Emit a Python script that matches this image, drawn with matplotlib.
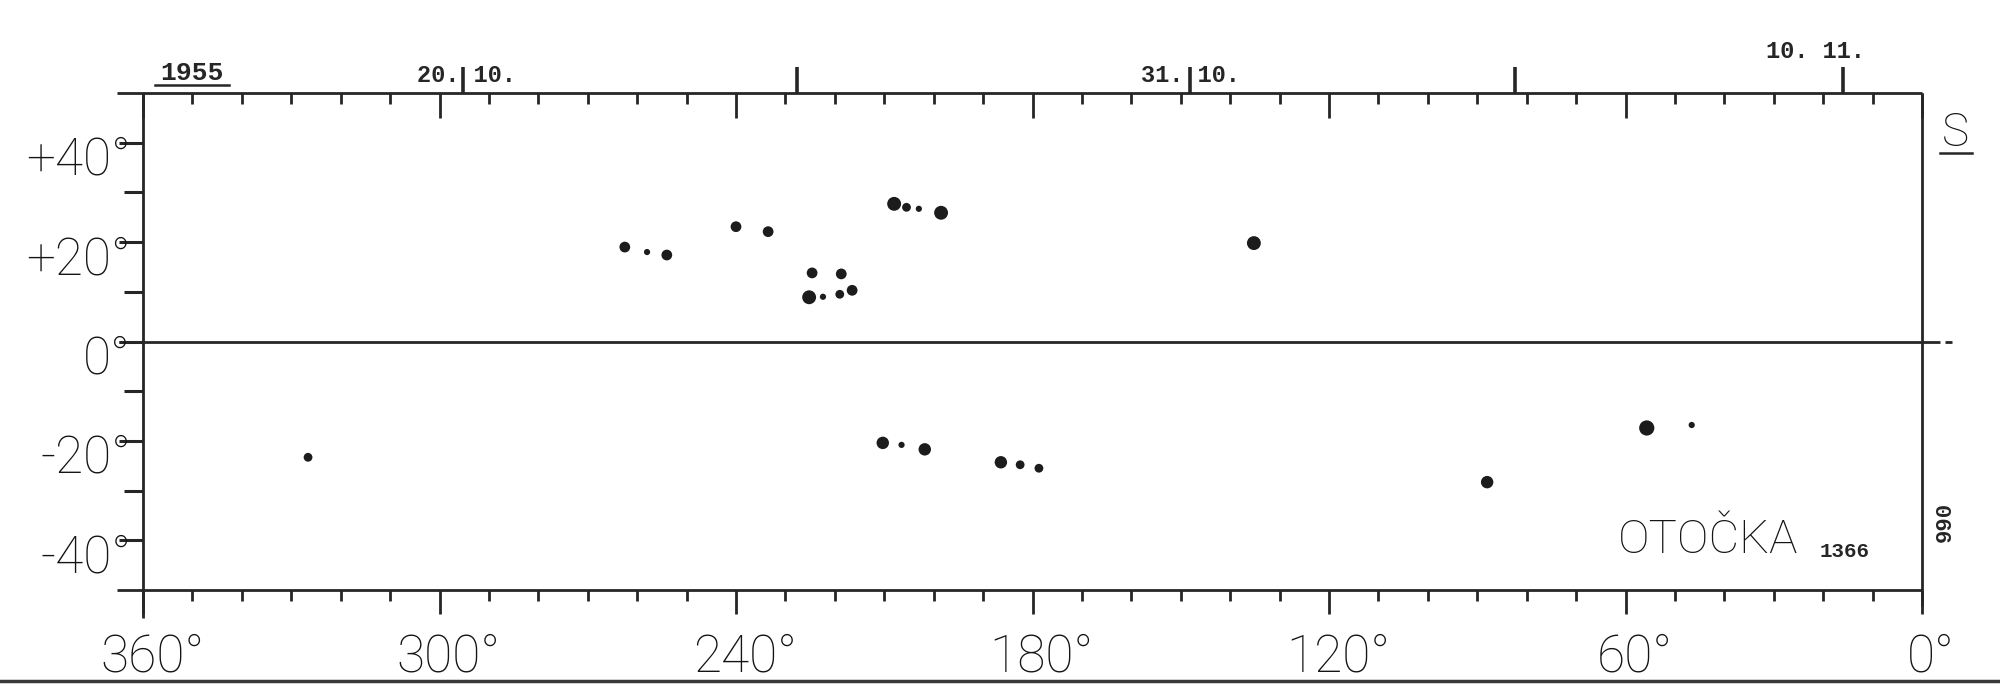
"""
Synoptic chart of sunspot positions, Carrington rotation 1366 (Oct-Nov 1955)
"""

import numpy as np
import matplotlib
matplotlib.use('Agg')
import matplotlib.pyplot as plt
from matplotlib import transforms as mtransforms
from matplotlib.lines import Line2D

# ---------------------------------------------------------- data
lon_major = [360, 300, 240, 180, 120, 60, 0]
lon_labels = ['360°', '300°', '240°', '180°', '120°', '60°', '0°']
lon_minor = list(range(0, 361, 10))

lat_major = [40, 20, 0, -20, -40]
lat_labels = ['+40°', '+20°', '0°', '-20°', '-40°']
lat_minor = [30, 10, -10, -30]

# date marks on the upper edge (Carrington longitude of central meridian)
date_lon = [295.2, 227.7, 148.1, 82.4, 16.0]
date_labels = ['20. 10.', '', '31. 10.', '', '10. 11.']

year_label = '1955'
rotation_name = 'OTOČKA'
rotation_number = '1366'
page_number = '990'
hemisphere = 'S'

# sunspots: longitude, latitude, relative area
spot_lon = [262.5, 258.0, 254.0, 240.0, 233.5,
            208.0, 205.5, 203.0, 198.5,
            224.6, 218.7, 225.2, 222.4, 219.0, 216.5,
            135.2,
            326.6, 210.3, 206.5, 201.8,
            186.4, 182.5, 178.7,
            88.0, 55.7, 46.6]
spot_lat = [19.0, 18.0, 17.4, 23.1, 22.1,
            27.7, 27.0, 26.7, 25.9,
            13.8, 13.6, 8.9, 9.0, 9.5, 10.3,
            19.8,
            -23.3, -20.4, -20.8, -21.7,
            -24.3, -24.8, -25.5,
            -28.3, -17.4, -16.8]
spot_area = [3, 1, 3, 3, 3,
             5, 2, 1, 5,
             3, 3, 5, 1, 2, 3,
             5,
             2, 4, 1, 4,
             4, 2, 2,
             4, 6, 1]

# ---------------------------------------------------------- style
ink = '#262626'
text_ink = '#141414'
font = ['Roboto', 'DejaVu Sans']
mono = ['Liberation Mono', 'DejaVu Sans Mono']

W, H = 2000, 684
L, R, T, B = 143, 1922, 93, 590

fig = plt.figure(figsize=(W / 100, H / 100), dpi=100)
ax = fig.add_axes([L / W, 1 - B / H, (R - L) / W, (B - T) / H])
ax.set_xlim(360, 0)
ax.set_ylim(-50, 50)
for sp in ax.spines.values():
    sp.set_visible(False)

sx = 1 / (R - L)
sy = 1 / (B - T)

# frame lines (hand drawn look: overshoot at the corners)
line_kw = dict(color=ink, lw=2.0, solid_capstyle='butt', clip_on=False)
ax.plot([-26 * sx, 1], [1, 1], transform=ax.transAxes, **line_kw)
ax.plot([-26 * sx, 1], [0, 0], transform=ax.transAxes, **line_kw)
ax.plot([0, 0], [-28 * sy, 1], transform=ax.transAxes, **line_kw)
ax.plot([1, 1], [-16 * sy, 1], transform=ax.transAxes, **line_kw)

# equator
ytr = ax.get_yaxis_transform()
ax.plot([-24 * sx, 1 + 18 * sx], [0, 0], transform=ytr, **line_kw)
ax.plot([1 + 23 * sx, 1 + 30 * sx], [0, 0], transform=ytr, **line_kw)

# bottom longitude ticks
ax.set_xticks(lon_major)
ax.set_xticks(lon_minor, minor=True)
ax.tick_params(axis='x', which='major', direction='out', length=17, width=2,
               color=ink, labelbottom=False)
ax.tick_params(axis='x', which='minor', direction='out', length=8, width=2,
               color=ink)

# latitude ticks
ax.set_yticks(lat_major)
ax.set_yticks(lat_minor, minor=True)
ax.tick_params(axis='y', which='major', direction='out', length=17, width=2.2,
               color=ink, labelleft=False)
ax.tick_params(axis='y', which='minor', direction='out', length=14, width=2.2,
               color=ink)

# top longitude ticks pointing inwards
top = ax.secondary_xaxis('top')
top.set_xticks(lon_major)
top.set_xticks(lon_minor, minor=True)
top.tick_params(which='major', direction='in', length=18, width=2, color=ink,
                labeltop=False)
top.tick_params(which='minor', direction='in', length=8, width=2, color=ink)
top.spines['top'].set_visible(False)

# date marks pointing outwards
dates = ax.secondary_xaxis('top')
dates.set_xticks(date_lon)
dates.tick_params(direction='out', length=19, width=2.6, color=ink,
                  labeltop=False)
dates.spines['top'].set_visible(False)

# latitude labels
lat_tr = mtransforms.offset_copy(ytr, fig=fig, x=-12, y=-32, units='dots')
for v, t in zip(lat_major, lat_labels):
    ax.text(0, v, t, transform=lat_tr, ha='right', va='baseline',
            fontsize=37, family=font, weight='light', color=text_ink)

# longitude labels
xtr = ax.get_xaxis_transform()
lon_tr = mtransforms.offset_copy(xtr, fig=fig, x=9, y=-82, units='dots')
for v, t in zip(lon_major, lon_labels):
    ax.text(v, 0, t, transform=lon_tr, ha='center', va='baseline',
            fontsize=37, family=font, weight='light', color=text_ink)

# date labels
date_layout = [(3, 11, 'center'), None, (0, 11, 'center'), None, (22, 35, 'right')]
for v, t, lay in zip(date_lon, date_labels, date_layout):
    if not t:
        continue
    dx, dy, ha = lay
    tr = mtransforms.offset_copy(xtr, fig=fig, x=dx, y=dy, units='dots')
    ax.text(v, 1, t, transform=tr, ha=ha, va='baseline', fontsize=17,
            family=mono, weight='bold', color=ink)

# year, underlined
ax.text(49 * sx, 1 + 13 * sy, year_label, transform=ax.transAxes, ha='center',
        va='baseline', fontsize=19, family=mono, weight='bold', color=ink)
ax.plot([12 * sx, 86 * sx], [1 + 8 * sy] * 2, transform=ax.transAxes,
        color=ink, lw=1.8, clip_on=False)

# hemisphere letter, underlined
ax.text(1 + 33 * sx, (B - 146) * sy, hemisphere, transform=ax.transAxes,
        ha='center', va='baseline', fontsize=33, family=font, weight='light',
        color=text_ink)
ax.plot([1 + 18 * sx, 1 + 50 * sx], [(B - 153) * sy] * 2,
        transform=ax.transAxes, color=ink, lw=1.8, clip_on=False)

# rotation
ax.text((1798 - L) * sx, (B - 553) * sy, rotation_name, transform=ax.transAxes,
        ha='right', va='baseline', fontsize=34, family=font, weight='light',
        color=text_ink)
ax.text((1820 - L) * sx, (B - 557) * sy, rotation_number,
        transform=ax.transAxes, ha='left', va='baseline', fontsize=15,
        family=mono, weight='bold', color=ink)
ax.text(1 + 23 * sx, (B - 522) * sy, page_number, transform=ax.transAxes,
        ha='center', va='center', rotation=90, fontsize=16, family=mono,
        weight='bold', color=ink)

# sunspots
ax.scatter(spot_lon, spot_lat, s=np.array(spot_area) * 20, color='#1c1c1c',
           linewidths=0, zorder=3)

# page edge
fig.add_artist(Line2D([0, 1], [0.004, 0.004], transform=fig.transFigure,
                      color='#3a3a3a', lw=2.5))

fig.savefig('out.png', dpi=100, facecolor='white')
